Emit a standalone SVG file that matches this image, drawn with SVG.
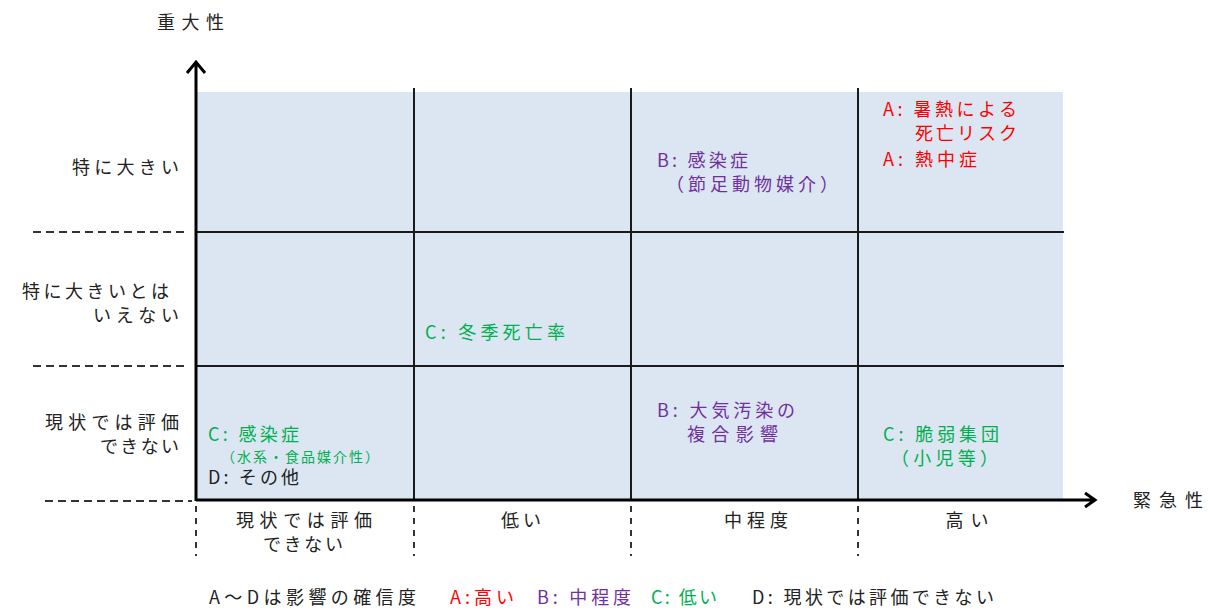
<svg xmlns="http://www.w3.org/2000/svg" width="1211" height="610" viewBox="0 0 1211 610">
<style>
text{font-family:"Noto Sans CJK JP","Noto Sans",sans-serif;font-size:18px;fill:#222}
.s{font-size:14px}
.r{fill:#ff0000}.p{fill:#7030a0}.g{fill:#00b050}
.grid{stroke:#1a1a1a;stroke-width:2;fill:none}
.axis{stroke:#000;stroke-width:3;fill:none}
.dh{stroke:#333;stroke-width:2;stroke-dasharray:8 5;fill:none}
.dv{stroke:#333;stroke-width:2;stroke-dasharray:6 6;fill:none}
.m{text-anchor:middle}
</style>
<rect x="196" y="92" width="867" height="408" fill="#dce6f2"/>
<g id="connectors">
<path class="grid" d="M196 232H1064M196 366H1064M414 88V500M631 88V500M858 88V500"/>
<path class="dh" d="M33 232H185M33 366H185M45 501H192"/>
<path class="dv" d="M196 506V556M414 506V556M631 506V556M858 506V556"/>
<path class="axis" d="M196 501V63M187 73L196 62L205 73"/>
<path class="axis" d="M196 500H1094M1085 493L1095 500L1085 507"/>
</g>
<g id="axis-labels">
<text x="157" y="29" textLength="67">重大性</text>
<text x="1133" y="507" textLength="70">緊急性</text>
</g>
<g id="row-labels">
<text x="72" y="174" textLength="107">特に大きい</text>
<text x="22" y="298" textLength="147">特に大きいとは</text>
<text x="93" y="322" textLength="86">いえない</text>
<text x="45" y="429" textLength="134">現状では評価</text>
<text x="100" y="453" textLength="79">できない</text>
</g>
<g id="col-labels">
<text class="m" x="304" y="527" textLength="136">現状では評価</text>
<text class="m" x="303" y="551" textLength="80">できない</text>
<text class="m" x="521" y="527" textLength="40">低い</text>
<text class="m" x="756" y="527" textLength="64">中程度</text>
<text class="m" x="967" y="527" textLength="43">高い</text>
</g>
<g id="cell-heat">
<text class="r" x="883" y="116" textLength="134">A: 暑熱による</text>
<text class="r" x="915" y="140" textLength="102">死亡リスク</text>
<text class="r" x="883" y="166" textLength="94">A: 熱中症</text>
</g>
<g id="cell-vector">
<text class="p" x="657" y="167" textLength="91">B: 感染症</text>
<text class="p" x="666" y="191" textLength="172">（節足動物媒介）</text>
</g>
<g id="cell-winter">
<text class="g" x="425" y="339" textLength="140">C: 冬季死亡率</text>
</g>
<g id="cell-air">
<text class="p" x="657" y="417" textLength="138">B: 大気汚染の</text>
<text class="p" x="687" y="441" textLength="91">複合影響</text>
</g>
<g id="cell-vulnerable">
<text class="g" x="883" y="441" textLength="116">C: 脆弱集団</text>
<text class="g" x="891" y="465" textLength="107">（小児等）</text>
</g>
<g id="cell-water">
<text class="g" x="208" y="441" textLength="91">C: 感染症</text>
<text class="g s" x="221" y="462" textLength="158">（水系・食品媒介性）</text>
<text x="208" y="484" textLength="91">D: その他</text>
</g>
<g id="legend">
<text x="209" y="604" textLength="207">A〜Dは影響の確信度</text>
<text class="r" x="450" y="604" textLength="64">A:高い</text>
<text class="p" x="537" y="604" textLength="94">B: 中程度</text>
<text class="g" x="651" y="604" textLength="66">C: 低い</text>
<text x="752" y="604" textLength="242">D: 現状では評価できない</text>
</g>
</svg>
